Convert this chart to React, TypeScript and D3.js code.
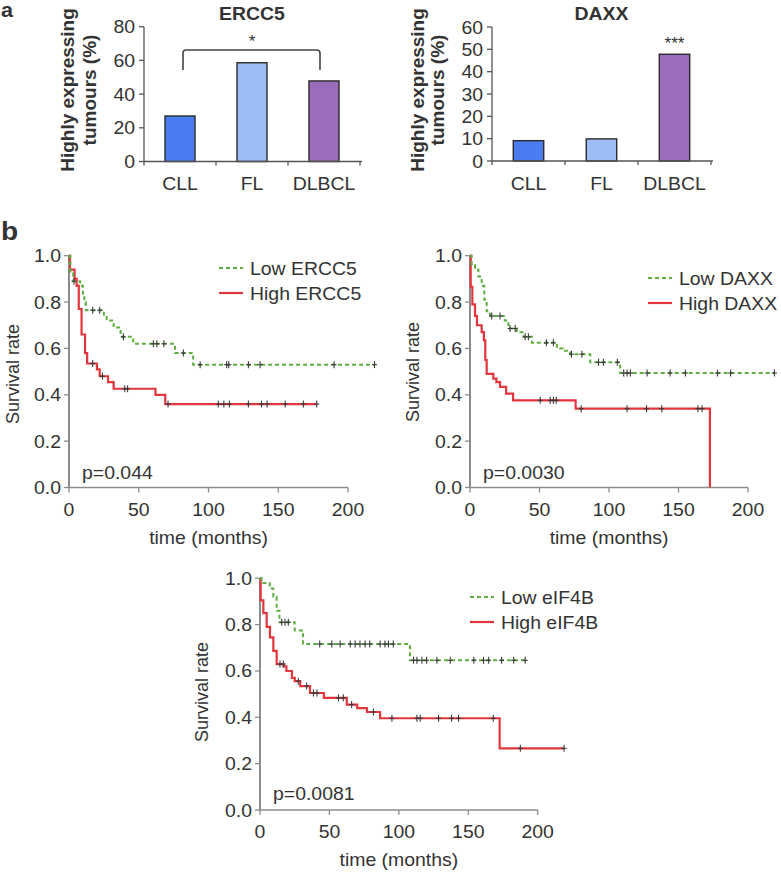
import React from "react";
import * as d3 from "d3";

// ---------- DATA ----------
const barCategories = ["CLL", "FL", "DLBCL"];
const ercc5Values = [27, 58.6, 47.8];
const daxxValues = [9.1, 9.9, 47.8];
const ercc5Ticks = [0, 20, 40, 60, 80];
const daxxTicks = [0, 10, 20, 30, 40, 50, 60];
const barColors = ["#4a7cf2", "#9dbdf6", "#9b6cbc"];

const kmXTicks = [0, 50, 100, 150, 200];
const kmYTicks = [0, 0.2, 0.4, 0.6, 0.8, 1.0];

// ERCC5 Kaplan-Meier
const lowErcc5Steps: [number, number][] = [[0, 1], [1, 0.93], [3, 0.89], [8, 0.87], [10, 0.83], [11, 0.8], [12, 0.765], [25, 0.74], [27, 0.72], [32, 0.69], [37, 0.65], [46, 0.62], [76, 0.58], [89, 0.53]];
const lowErcc5End = 219;
const lowErcc5Censor = [3.6, 17, 22, 39, 60.5, 63, 68, 82, 94, 113, 114.5, 128.6, 137, 190, 219];
const highErcc5Steps: [number, number][] = [[0, 1], [0.7, 0.94], [4, 0.9], [5.5, 0.87], [7, 0.77], [9, 0.66], [11.5, 0.58], [13, 0.535], [20, 0.51], [22, 0.48], [28, 0.455], [32, 0.426], [62, 0.4], [69, 0.36]];
const highErcc5End = 177.6;
const highErcc5Censor = [17, 24, 40, 42, 71, 107, 111, 115, 128.6, 138, 142, 155, 168, 177.6];

// DAXX Kaplan-Meier
const lowDaxxSteps: [number, number][] = [[0, 1], [1.2, 0.96], [3.6, 0.94], [6, 0.91], [8.4, 0.87], [10.3, 0.81], [12, 0.76], [14.4, 0.74], [25, 0.72], [27.6, 0.686], [33.6, 0.67], [38.5, 0.65], [44.5, 0.624], [62.5, 0.6], [67, 0.59], [72, 0.575], [86.5, 0.54], [108, 0.494]];
const lowDaxxEnd = 219;
const lowDaxxCensor = [15.6, 21.6, 28.8, 32.5, 39.7, 42, 55, 60, 73, 80.5, 92.5, 96, 106, 110.6, 113, 115.4, 127.4, 144, 155, 178, 187.5, 219];
const highDaxxSteps: [number, number][] = [[0, 1], [0.5, 0.866], [1.7, 0.79], [3.6, 0.74], [5, 0.7], [8.4, 0.67], [10, 0.635], [11, 0.55], [12, 0.49], [16.8, 0.47], [19, 0.455], [21.6, 0.434], [26, 0.405], [31, 0.376], [76, 0.34], [172.6, 0]];
const highDaxxEnd = 172.6;
const highDaxxCensor = [50.5, 57.7, 60, 62, 80, 113, 127, 138, 164, 167];

// eIF4B Kaplan-Meier
const lowEif4bSteps: [number, number][] = [[0, 1], [1.2, 0.98], [7, 0.956], [9.6, 0.92], [12, 0.86], [14, 0.81], [25, 0.775], [31, 0.716], [108, 0.646]];
const lowEif4bEnd = 192;
const lowEif4bCensor = [15.6, 18, 20.4, 43, 51.7, 57.7, 65, 68.5, 72, 75.7, 79, 86.5, 90, 92.5, 96, 110.6, 113, 116.6, 120, 127.4, 137, 154, 161, 164.7, 174, 182.7, 191];
const highEif4bSteps: [number, number][] = [[0, 1], [0.5, 0.905], [2.4, 0.85], [4.8, 0.79], [7.2, 0.745], [9.6, 0.687], [12, 0.63], [17, 0.62], [19, 0.6], [23, 0.57], [25, 0.556], [29, 0.535], [36, 0.505], [46, 0.484], [62.5, 0.455], [70, 0.44], [77, 0.423], [86.5, 0.396], [172.6, 0.266]];
const highEif4bEnd = 219;
const highEif4bCensor = [14.4, 16.8, 27.6, 33.6, 38.5, 41, 56.5, 60, 66, 81.7, 95, 113, 115.4, 128.6, 138, 143, 168, 187.5, 219];

// ---------- STYLE ----------
const FONT = "Liberation Sans, Arial, Helvetica, sans-serif";
const TXT = "#333";
const RED = "#e2363c";
const GREEN = "#5fae42";
const AXIS = "#8c8c8c";
const SX = 1.08;

function T({ x, y, children, anchor = "start", size = 18, weight = "normal", fill = TXT }: any) {
  return (
    <text transform={`translate(${x},${y}) scale(${SX},1)`} textAnchor={anchor} fontSize={size} fontWeight={weight} fill={fill} fontFamily={FONT}>
      {children}
    </text>
  );
}

function VT({ x, y, children, size = 19, weight = "normal" }: any) {
  return (
    <text transform={`translate(${x},${y}) rotate(-90)`} textAnchor="middle" fontSize={size} fontWeight={weight} fill={TXT} fontFamily={FONT}>
      {children}
    </text>
  );
}

function BarPanel({ title, values, ticks, yMax, x0, x1, y0, y1, labelX1, labelX2, bracket, stars }: any) {
  const x = d3.scaleBand<string>().domain(barCategories).range([x0, x1]).paddingInner(0.583).paddingOuter(0.2917);
  const y = d3.scaleLinear().domain([0, yMax]).range([y0, y1]);
  const step = x.step();
  const bounds = d3.range(barCategories.length + 1).map((i) => x0 + i * step);
  const midX = (x0 + x1) / 2;
  const cx = (c: string) => (x(c) as number) + x.bandwidth() / 2;
  return (
    <g>
      <T x={midX} y={20} anchor="middle" weight="bold" size={18}>{title}</T>
      <VT x={labelX1} y={90} weight="bold">Highly expressing</VT>
      <VT x={labelX2} y={90} weight="bold">tumours (%)</VT>
      {values.map((v: number, i: number) => (
        <rect key={i} x={x(barCategories[i])} y={y(v)} width={x.bandwidth()} height={y(0) - y(v)} fill={barColors[i]} stroke="#2a2a2a" strokeWidth={1.4} />
      ))}
      <line x1={x0} x2={x0} y1={y(yMax)} y2={y(0)} stroke="#555" strokeWidth={1.3} />
      <line x1={x0} x2={x1 + 2} y1={y(0)} y2={y(0)} stroke="#555" strokeWidth={1.3} />
      {ticks.map((t: number) => (
        <g key={t}>
          <line x1={x0 - 5} x2={x0} y1={y(t)} y2={y(t)} stroke="#555" strokeWidth={1.3} />
          <T x={x0 - 9} y={y(t) + 6.5} anchor="end">{t}</T>
        </g>
      ))}
      {bounds.map((b: number, i: number) => (
        <line key={i} x1={b} x2={b} y1={y(0)} y2={y(0) + 4} stroke="#555" strokeWidth={1.3} />
      ))}
      {barCategories.map((c) => (
        <T key={c} x={cx(c)} y={190} anchor="middle">{c}</T>
      ))}
      {bracket && (
        <g>
          <path d={`M${cx(bracket[0]) + 3},70 L${cx(bracket[0]) + 3},53 Q${cx(bracket[0]) + 3},50 ${cx(bracket[0]) + 6},50 L${cx(bracket[1]) - 7},50 Q${cx(bracket[1]) - 4},50 ${cx(bracket[1]) - 4},53 L${cx(bracket[1]) - 4},70`} fill="none" stroke="#444" strokeWidth={1.6} />
          <T x={midX} y={47} anchor="middle" size={16}>*</T>
        </g>
      )}
      {stars && (
        <T x={cx(stars.cat)} y={y(stars.v) - 5} anchor="middle" size={16}>{stars.text}</T>
      )}
    </g>
  );
}

function stepValue(steps: [number, number][], t: number) {
  let s = steps[0][1];
  for (const [tt, v] of steps) if (tt <= t) s = v;
  return s;
}

function KM({ xr, yr, low, high, labels, pText, pPos, legend, ylabelX, ylabelY }: any) {
  const x = d3.scaleLinear().domain([0, 200]).range(xr);
  const y = d3.scaleLinear().domain([0, 1]).range(yr);
  const line = d3.line<[number, number]>().x((d) => x(d[0])).y((d) => y(d[1])).curve(d3.curveStepAfter);
  const mk = (steps: [number, number][], end: number) => {
    const pts = steps.slice();
    const last = pts[pts.length - 1];
    if (end > last[0]) pts.push([end, last[1]]);
    return line(pts) as string;
  };
  const cens = (steps: [number, number][], times: number[], key: string) =>
    times.map((t, i) => {
      const cx = x(t);
      const cy = y(stepValue(steps, t));
      return (
        <g key={key + i}>
          <line x1={cx} x2={cx} y1={cy - 3.5} y2={cy + 3.5} stroke="#3a3a3a" strokeWidth={1.1} />
          <line x1={cx - 2.5} x2={cx + 2.5} y1={cy} y2={cy} stroke="#3a3a3a" strokeWidth={1.1} />
        </g>
      );
    });
  const xMid = (xr[0] + xr[1]) / 2;
  return (
    <g>
      <line x1={xr[0]} x2={xr[0]} y1={yr[1]} y2={yr[0]} stroke={AXIS} strokeWidth={2} />
      <line x1={xr[0]} x2={xr[1]} y1={yr[0]} y2={yr[0]} stroke={AXIS} strokeWidth={1.6} />
      {kmYTicks.map((t) => (
        <g key={"y" + t}>
          <line x1={xr[0] - 5} x2={xr[0]} y1={y(t)} y2={y(t)} stroke={AXIS} strokeWidth={1.3} />
          <T x={xr[0] - 8} y={y(t) + 6.5} anchor="end">{d3.format(".1f")(t)}</T>
        </g>
      ))}
      {kmXTicks.map((t) => (
        <g key={"x" + t}>
          <line x1={x(t)} x2={x(t)} y1={yr[0]} y2={yr[0] + 5} stroke={AXIS} strokeWidth={1.3} />
          <T x={x(t)} y={yr[0] + 28} anchor="middle">{t}</T>
        </g>
      ))}
      <T x={xMid} y={yr[0] + 56} anchor="middle">time (months)</T>
      <VT x={ylabelX} y={ylabelY} size={18}>Survival rate</VT>
      <path d={mk(high.steps, high.end)} fill="none" stroke={RED} strokeWidth={2.2} />
      <path d={mk(low.steps, low.end)} fill="none" stroke={GREEN} strokeWidth={2} strokeDasharray="4,3" />
      {cens(low.steps, low.censor, "l")}
      {cens(high.steps, high.censor, "h")}
      <T x={pPos[0]} y={pPos[1]}>{pText}</T>
      <line x1={legend[0]} x2={legend[0] + 24} y1={legend[1]} y2={legend[1]} stroke={GREEN} strokeWidth={2} strokeDasharray="4,3" />
      <T x={legend[0] + 31} y={legend[1] + 6.5}>{labels[0]}</T>
      <line x1={legend[0]} x2={legend[0] + 24} y1={legend[1] + 25} y2={legend[1] + 25} stroke={RED} strokeWidth={2.2} />
      <T x={legend[0] + 31} y={legend[1] + 31.5}>{labels[1]}</T>
    </g>
  );
}

export default function App() {
  return (
    <svg width={781} height={873} style={{ position: "absolute", left: 0, top: 0, background: "#fff" }}>
      <rect width={781} height={873} fill="#fff" />
      <T x={1} y={17} weight="bold" size={20}>a</T>
      <T x={1} y={240} weight="bold" size={26}>b</T>
      <BarPanel title="ERCC5" values={ercc5Values} ticks={ercc5Ticks} yMax={80} x0={144} x1={360} y0={161.5} y1={26.7} labelX1={74} labelX2={96} bracket={["CLL", "DLBCL"]} />
      <BarPanel title="DAXX" values={daxxValues} ticks={daxxTicks} yMax={60} x0={492} x1={711} y0={161} y1={27} labelX1={424} labelX2={444} stars={{ cat: "DLBCL", v: 47.8, text: "***" }} />
      <KM xr={[69, 348]} yr={[487.5, 255.7]}
        low={{ steps: lowErcc5Steps, end: lowErcc5End, censor: lowErcc5Censor }}
        high={{ steps: highErcc5Steps, end: highErcc5End, censor: highErcc5Censor }}
        labels={["Low ERCC5", "High ERCC5"]} pText="p=0.044" pPos={[82, 479]} legend={[219, 268]} ylabelX={19} ylabelY={374} />
      <KM xr={[470, 748]} yr={[487.5, 255.7]}
        low={{ steps: lowDaxxSteps, end: lowDaxxEnd, censor: lowDaxxCensor }}
        high={{ steps: highDaxxSteps, end: highDaxxEnd, censor: highDaxxCensor }}
        labels={["Low DAXX", "High DAXX"]} pText="p=0.0030" pPos={[483, 479]} legend={[648, 278]} ylabelX={419} ylabelY={372} />
      <KM xr={[260, 537.7]} yr={[810, 578.3]}
        low={{ steps: lowEif4bSteps, end: lowEif4bEnd, censor: lowEif4bCensor }}
        high={{ steps: highEif4bSteps, end: highEif4bEnd, censor: highEif4bCensor }}
        labels={["Low eIF4B", "High eIF4B"]} pText="p=0.0081" pPos={[273, 800]} legend={[470, 597]} ylabelX={208} ylabelY={692} />
    </svg>
  );
}
